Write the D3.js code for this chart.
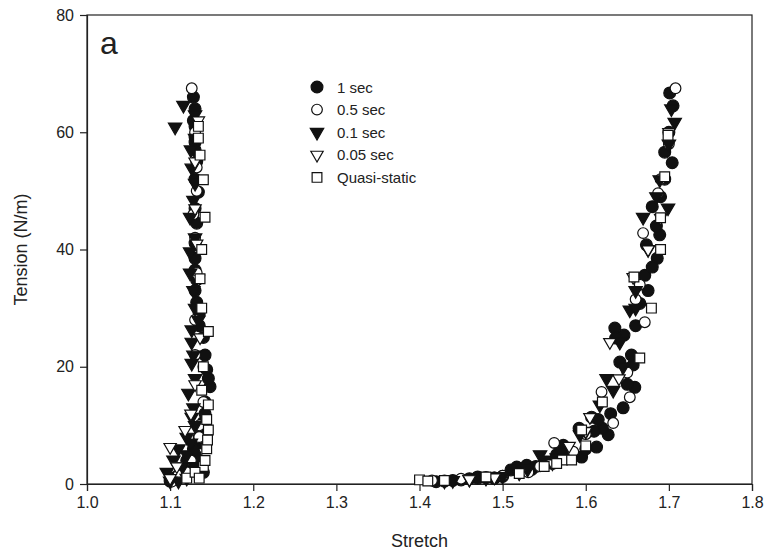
<!DOCTYPE html>
<html>
<head>
<meta charset="utf-8">
<script src="https://cdn.jsdelivr.net/npm/d3@7"></script>
<style>
  body { margin: 0; background: #fff; }
  svg { font-family: "Liberation Sans", Arial, sans-serif; }
</style>
</head>
<body>
<svg id="chart" width="765" height="554"></svg>
<script>
const seriesNames = ["1 sec", "0.5 sec", "0.1 sec", "0.05 sec", "Quasi-static"];
const xTicks = [1.0, 1.1, 1.2, 1.3, 1.4, 1.5, 1.6, 1.7, 1.8];
const yTicks = [0, 20, 40, 60, 80];

// 1 sec (filled circles)
const stretch1 = [1.100, 1.110, 1.125, 1.130, 1.138, 1.140, 1.142, 1.148, 1.144, 1.142, 1.135, 1.132, 1.132, 1.130, 1.130, 1.132, 1.134, 1.132, 1.130, 1.130, 1.128, 1.128, 1.130, 1.136, 1.140,
  1.115, 1.120, 1.128, 1.135, 1.140, 1.142, 1.146, 1.140, 1.135, 1.130, 1.130, 1.130, 1.130, 1.130, 1.105, 1.130,
  1.420, 1.440, 1.460, 1.480, 1.500, 1.510, 1.517, 1.529, 1.550, 1.573, 1.582, 1.595, 1.613, 1.607, 1.627, 1.620, 1.645, 1.659, 1.657, 1.641, 1.646, 1.635, 1.636, 1.665, 1.671, 1.686, 1.673, 1.689, 1.680, 1.704, 1.695, 1.701, 1.705, 1.592, 1.470, 1.490,
  1.430, 1.450, 1.470, 1.490, 1.520, 1.535, 1.540, 1.560, 1.565, 1.575, 1.600, 1.610, 1.615, 1.630, 1.650, 1.655, 1.660, 1.675, 1.680, 1.685, 1.690, 1.700, 1.695];
const tension1 = [0.5, 1.5, 3.0, 5.0, 7.0, 9.0, 12.0, 16.6, 19.5, 22.0, 27.0, 31.0, 34.8, 38.5, 41.1, 44.5, 49.8, 55.0, 58.3, 59.2, 62.0, 66.0, 64.0, 4.0, 2.0,
  2.5, 4.0, 6.0, 8.0, 10.5, 14.0, 18.0, 25.0, 29.0, 33.0, 36.5, 47.0, 52.0, 57.0, 1.0, 61.0,
  0.4, 0.6, 0.9, 1.1, 1.3, 2.4, 2.9, 3.2, 3.5, 6.6, 5.0, 4.6, 6.3, 11.4, 8.4, 9.5, 13.0, 16.5, 20.3, 20.8, 25.4, 26.6, 24.9, 30.8, 35.6, 38.5, 40.8, 42.5, 47.3, 54.8, 56.6, 66.7, 64.5, 9.5, 1.2, 1.0,
  0.5, 0.7, 1.0, 1.0, 2.0, 2.5, 3.0, 3.5, 5.0, 4.5, 6.0, 9.0, 11.0, 12.0, 17.0, 22.0, 27.0, 33.0, 37.0, 44.0, 49.0, 60.0, 52.0];

// 0.5 sec (open circles)
const stretch2 = [1.126, 1.130, 1.132, 1.130, 1.132, 1.130, 1.140, 1.140, 1.135, 1.125, 1.110, 1.102, 1.128, 1.132, 1.135, 1.130, 1.120,
  1.415, 1.450, 1.531, 1.562, 1.600, 1.619, 1.633, 1.653, 1.671, 1.660, 1.669, 1.687, 1.700, 1.708, 1.650, 1.665, 1.585, 1.690, 1.500, 1.545];
const tension2 = [67.5, 60.0, 50.0, 42.0, 36.0, 28.0, 20.0, 14.0, 8.0, 4.0, 1.5, 0.4, 46.0, 54.0, 10.0, 22.0, 2.0,
  0.6, 0.9, 2.0, 7.0, 8.5, 15.7, 10.4, 14.8, 27.6, 31.5, 42.8, 49.6, 58.0, 67.5, 19.0, 34.0, 5.5, 52.0, 1.4, 3.0];

// 0.1 sec (filled triangles)
const stretch3 = [1.116, 1.106, 1.130, 1.126, 1.130, 1.128, 1.124, 1.124, 1.124, 1.134, 1.126, 1.126, 1.126, 1.122, 1.126, 1.104, 1.096, 1.100, 1.130, 1.120, 1.110, 1.128,
  1.120, 1.115, 1.120, 1.125, 1.130, 1.128, 1.130, 1.128, 1.130, 1.125, 1.130, 1.110, 1.130,
  1.430, 1.480, 1.545, 1.557, 1.593, 1.617, 1.633, 1.641, 1.653, 1.669, 1.689, 1.699, 1.707, 1.703, 1.660, 1.625, 1.565, 1.520,
  1.440, 1.460, 1.500, 1.530, 1.570, 1.600, 1.645, 1.660, 1.675, 1.685, 1.700];
const tension3 = [64.6, 60.9, 63.0, 53.9, 51.3, 48.4, 45.5, 39.6, 36.0, 28.0, 26.3, 24.2, 20.6, 15.5, 11.4, 4.1, 2.0, 0.5, 30.0, 8.0, 6.0, 33.0,
  1.0, 3.0, 5.0, 7.0, 10.0, 13.0, 18.0, 22.0, 42.0, 57.0, 59.0, 0.5, 3.0,
  0.5, 1.0, 5.0, 4.1, 8.4, 13.5, 16.0, 24.2, 29.7, 45.5, 51.9, 47.1, 61.7, 64.0, 33.0, 18.0, 4.5, 2.0,
  0.6, 0.8, 1.3, 2.5, 5.5, 9.0, 20.0, 30.0, 40.0, 49.0, 58.0];

// 0.05 sec (open triangles)
const stretch4 = [1.118, 1.100, 1.108, 1.130, 1.134, 1.130, 1.134, 1.136, 1.130, 1.125, 1.100, 1.132,
  1.460, 1.520, 1.560, 1.605, 1.629, 1.657, 1.690, 1.600, 1.640, 1.675, 1.700, 1.580, 1.490];
const tension4 = [9.2, 6.3, 3.0, 55.0, 62.0, 47.0, 35.0, 25.0, 17.0, 12.0, 1.0, 41.0,
  0.8, 1.8, 3.5, 11.4, 24.2, 35.3, 45.4, 9.0, 18.0, 40.0, 60.0, 6.5, 1.1];

// Quasi-static (open squares)
const stretch5 = [1.134, 1.136, 1.140, 1.142, 1.138, 1.136, 1.138, 1.146, 1.140, 1.146, 1.146, 1.144, 1.140, 1.120, 1.134, 1.138, 1.142, 1.145, 1.144, 1.130, 1.135,
  1.400, 1.410, 1.572, 1.583, 1.595, 1.665, 1.679, 1.658, 1.690, 1.699, 1.695, 1.690, 1.620, 1.550, 1.480, 1.430, 1.520, 1.565, 1.600];
const tension5 = [61.0, 56.1, 51.9, 45.5, 40.0, 35.0, 30.0, 26.0, 20.0, 13.5, 9.2, 6.0, 3.0, 1.0, 59.0, 16.0, 4.0, 7.5, 11.0, 2.0, 1.0,
  0.7, 0.5, 4.1, 4.1, 9.2, 21.5, 30.0, 35.3, 40.0, 59.5, 52.4, 45.4, 14.0, 3.0, 1.2, 0.6, 1.8, 3.5, 6.5];

const stretchAll = [stretch1, stretch2, stretch3, stretch4, stretch5];
const tensionAll = [tension1, tension2, tension3, tension4, tension5];

const ink = "#111";
const markers = [
  { type: d3.symbolCircle, size: 110, fill: ink, stroke: ink, rot: 0 },
  { type: d3.symbolCircle, size: 90, fill: "#fff", stroke: ink, rot: 0 },
  { type: d3.symbolTriangle, size: 78, fill: ink, stroke: ink, rot: 180 },
  { type: d3.symbolTriangle, size: 66, fill: "#fff", stroke: ink, rot: 180 },
  { type: d3.symbolSquare, size: 95, fill: "#fff", stroke: ink, rot: 0 },
];

const svg = d3.select("#chart");
const margin = { left: 87, right: 13, top: 15, bottom: 70 };
const W = 765, H = 554;

const x = d3.scaleLinear().domain([1.0, 1.8]).range([margin.left, W - margin.right]);
const y = d3.scaleLinear().domain([0, 80]).range([H - margin.bottom, margin.top]);

// frame
svg.append("rect")
  .attr("x", x(1.0)).attr("y", y(80))
  .attr("width", x(1.8) - x(1.0)).attr("height", y(0) - y(80))
  .attr("fill", "none").attr("stroke", "#222").attr("stroke-width", 1.2);

const xAxis = svg.append("g")
  .attr("transform", `translate(0,${y(0)})`)
  .call(d3.axisBottom(x).tickValues(xTicks).tickFormat(d3.format(".1f")).tickSize(7).tickPadding(6));
const yAxis = svg.append("g")
  .attr("transform", `translate(${x(1.0)},0)`)
  .call(d3.axisLeft(y).tickValues(yTicks).tickSize(7).tickPadding(6));

[xAxis, yAxis].forEach((g) => {
  g.select(".domain").attr("stroke", "#222").attr("stroke-width", 1.2);
  g.selectAll(".tick line").attr("stroke", "#222").attr("stroke-width", 1.2);
  g.selectAll(".tick text").attr("fill", "#222").style("font-size", "16px");
});

// titles
svg.append("text")
  .attr("x", (x(1.0) + x(1.8)) / 2).attr("y", 547)
  .attr("text-anchor", "middle").attr("fill", "#222")
  .style("font-size", "18px").text("Stretch");
svg.append("text")
  .attr("transform", `translate(27,${(y(0) + y(80)) / 2}) rotate(-90)`)
  .attr("text-anchor", "middle").attr("fill", "#222")
  .style("font-size", "18px").text("Tension (N/m)");
svg.append("text")
  .attr("x", 100).attr("y", 54)
  .attr("fill", "#222").style("font-size", "32px").text("a");

// points
const plot = svg.append("g");
stretchAll.forEach((xs, i) => {
  const m = markers[i];
  const pts = xs.map((s, j) => ({ s: s, t: tensionAll[i][j] }));
  plot.append("g").selectAll("path")
    .data(pts)
    .join("path")
    .attr("d", d3.symbol().type(m.type).size(m.size))
    .attr("transform", (d) => `translate(${x(d.s)},${y(d.t)}) rotate(${m.rot})`)
    .attr("fill", m.fill)
    .attr("stroke", m.stroke)
    .attr("stroke-width", 1.2);
});

// legend
const legend = svg.append("g").attr("transform", "translate(317,87)");
seriesNames.forEach((name, i) => {
  const m = markers[i];
  const row = legend.append("g").attr("transform", `translate(0,${i * 22.6})`);
  row.append("path")
    .attr("d", d3.symbol().type(m.type).size(m.size))
    .attr("transform", `rotate(${m.rot})`)
    .attr("fill", m.fill).attr("stroke", m.stroke).attr("stroke-width", 1.2);
  row.append("text")
    .attr("x", 20).attr("y", 5.5)
    .attr("fill", "#222").style("font-size", "15px").text(name);
});
</script>
</body>
</html>
